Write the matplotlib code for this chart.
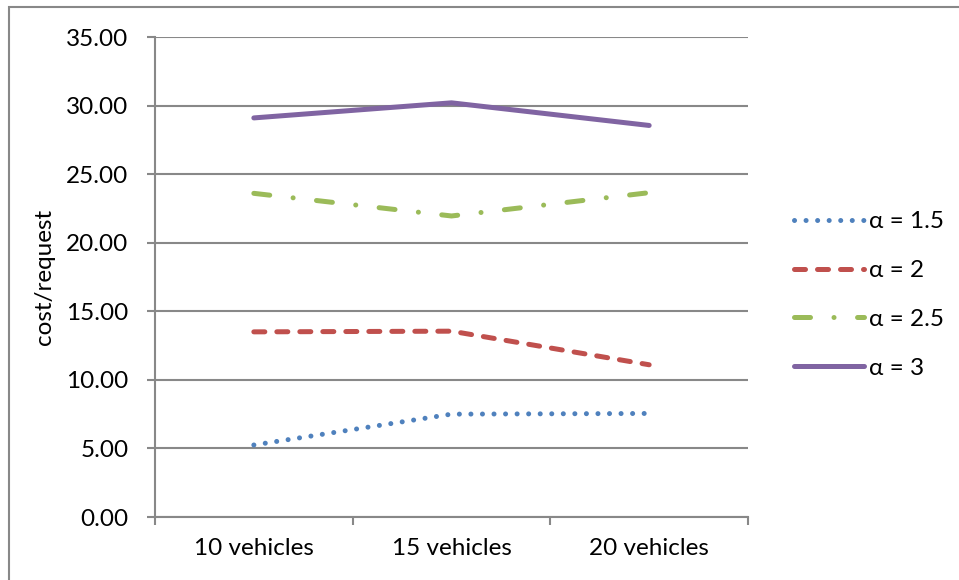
import matplotlib.pyplot as plt
from matplotlib.patches import Rectangle

plt.rcParams['font.family'] = ['Lato', 'DejaVu Sans']

categories = ['10 vehicles', '15 vehicles', '20 vehicles']
alpha_15 = [5.25, 7.50, 7.55]
alpha_2 = [13.50, 13.55, 11.10]
alpha_25 = [23.60, 21.95, 23.65]
alpha_3 = [29.10, 30.20, 28.55]
labels = ['α = 1.5', 'α = 2', 'α = 2.5', 'α = 3']
y_ticks = [0, 5, 10, 15, 20, 25, 30, 35]

W, H = 959, 580
fs = 17.5
fig = plt.figure(figsize=(W / 100, H / 100), dpi=100)
ax = fig.add_axes([155 / W, 1 - 517 / H, (748 - 155) / W, (517 - 37) / H])

# outer chart border (only left and top visible)
fig.patches.append(Rectangle((9 / W, -0.1), 1.2, 1 - 7 / H + 0.1, transform=fig.transFigure,
                             fill=False, edgecolor='#888888', linewidth=1.5))

lw = 3.6
x = range(len(categories))
ax.plot(x, alpha_15, color='#4F81BD', lw=lw, dashes=(0.01, 2.3), dash_capstyle='round', label=labels[0])
ax.plot(x, alpha_2, color='#C0504D', lw=lw, dashes=(2.2, 2.4), dash_capstyle='round', label=labels[1])
ax.plot(x, alpha_25, color='#9BBB59', lw=lw, dashes=(3.2, 4.7, 0.01, 4.7), dash_capstyle='round', label=labels[2])
ax.plot(x, alpha_3, color='#8064A2', lw=lw, solid_capstyle='round', label=labels[3])

ax.set_xlim(-0.5, 2.5)
ax.set_ylim(0, 35)
ax.set_yticks(y_ticks)
ax.set_yticklabels(['%.2f' % v for v in y_ticks])
ax.set_xticks([-0.5, 0.5, 1.5, 2.5], minor=False)
ax.set_xticklabels([])
ax.set_xticks([0, 1, 2], minor=True)
ax.set_xticklabels(categories, minor=True)

ax.grid(axis='y', color='#888888', linewidth=1.5)
ax.set_axisbelow(True)
for s in ['top', 'right']:
    ax.spines[s].set_visible(False)
for s in ['left', 'bottom']:
    ax.spines[s].set_color('#888888')
    ax.spines[s].set_linewidth(1.5)

ax.tick_params(axis='y', length=6, width=1.5, color='#888888', pad=13, labelsize=fs)
ax.tick_params(axis='x', which='major', length=6, width=1.5, color='#888888')
ax.tick_params(axis='x', which='minor', length=0, pad=15, labelsize=fs)

fig.text(45 / W, 1 - 277 / H, 'cost/request', rotation=90, ha='center', va='center', fontsize=fs)

leg = ax.legend(loc='center left', bbox_to_anchor=(772 / W, 1 - 295 / H), bbox_transform=fig.transFigure,
                frameon=False, fontsize=fs, handlelength=2.9, handletextpad=0.2, labelspacing=1.15)

fig.savefig('out.png', dpi=100)
